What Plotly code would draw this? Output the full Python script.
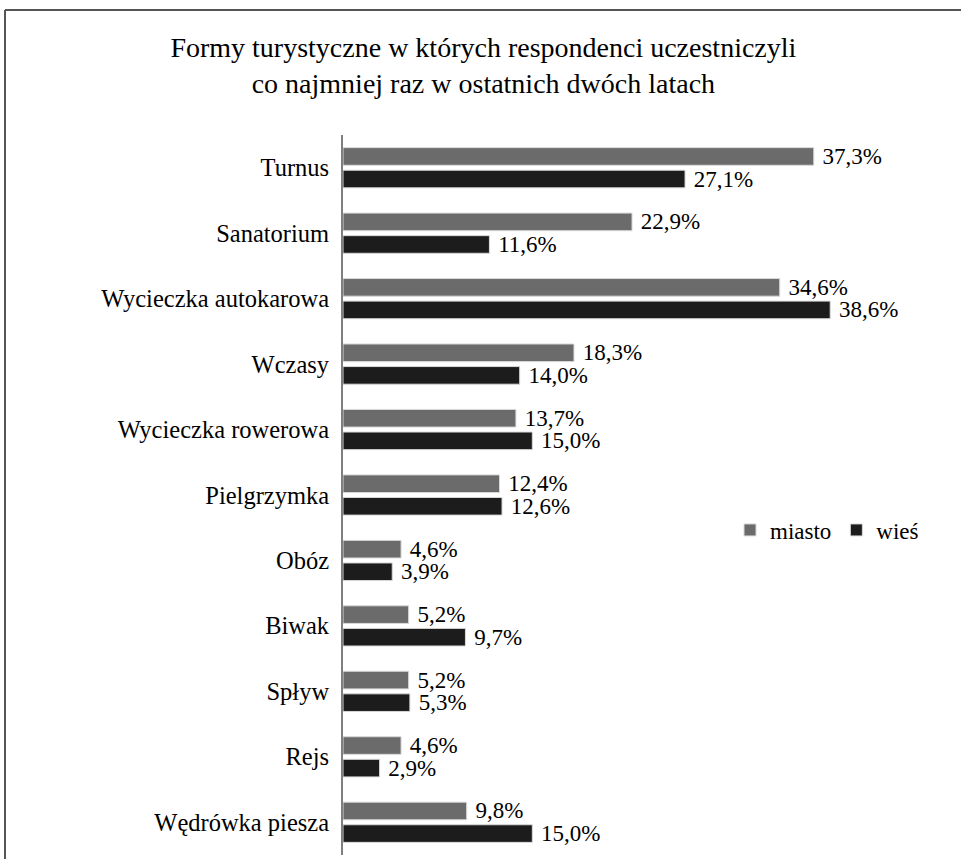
import plotly.graph_objects as go

categories = ["Turnus", "Sanatorium", "Wycieczka autokarowa", "Wczasy", "Wycieczka rowerowa",
              "Pielgrzymka", "Obóz", "Biwak", "Spływ", "Rejs", "Wędrówka piesza"]
miasto = [37.3, 22.9, 34.6, 18.3, 13.7, 12.4, 4.6, 5.2, 5.2, 4.6, 9.8]
wies = [27.1, 11.6, 38.6, 14.0, 15.0, 12.6, 3.9, 9.7, 5.3, 2.9, 15.0]
series_names = ["miasto", "wieś"]
colors = ["#6b6b6b", "#1c1c1c"]

def fmt(vals):
    return [" " + f"{v:.1f}".replace(".", ",") + "%" for v in vals]

FONT = "Liberation Serif, Times New Roman, serif"

fig = go.Figure()
for name, vals, col in zip(series_names, [miasto, wies], colors):
    fig.add_trace(go.Bar(
        y=categories, x=vals, name=name, orientation="h",
        marker=dict(color=col, line=dict(color="#d9d9d9", width=1)),
        text=fmt(vals), textposition="outside", cliponaxis=False,
        constraintext="none",
        textfont=dict(family=FONT, size=23, color="#000000"),
    ))

W, H = 961, 859
ml, mr, mt, mb = 343, 21, 135, 4
pw = W - ml - mr
ph = H - mt - mb

def px_to_paper_x(px):
    return (px - ml) / pw

def px_to_paper_y(py):
    return (H - mb - py) / ph

fig.update_layout(
    width=W, height=H,
    margin=dict(l=ml, r=mr, t=mt, b=mb, autoexpand=False),
    paper_bgcolor="white", plot_bgcolor="white",
    barmode="group", bargap=0.31, bargroupgap=0.22,
    font=dict(family=FONT, size=22, color="#000000"),
    title=dict(
        text="Formy turystyczne w których respondenci uczestniczyli<br>co najmniej raz w ostatnich dwóch latach",
        x=0.503, xanchor="center", xref="container",
        y=1 - 57 / H, yanchor="middle", yref="container",
        font=dict(family=FONT, size=28, color="#000000"),
    ),
    xaxis=dict(range=[0, 47.3], visible=False, showgrid=False, zeroline=False),
    yaxis=dict(autorange="reversed", showline=True, linecolor="#7f7f7f", linewidth=2,
               ticks="", ticklabelstandoff=7, showgrid=False, automargin=False,
               tickfont=dict(family=FONT, size=24.5, color="#000000")),
    legend=dict(orientation="h", x=px_to_paper_x(730), y=px_to_paper_y(530),
                xanchor="left", yanchor="middle", traceorder="normal",
                font=dict(family=FONT, size=23, color="#000000"),
                itemwidth=30, bgcolor="rgba(0,0,0,0)"),
    showlegend=True,
    shapes=[
        dict(type="line", xref="paper", yref="paper",
             x0=px_to_paper_x(5), x1=px_to_paper_x(970),
             y0=px_to_paper_y(10), y1=px_to_paper_y(10),
             line=dict(color="#555555", width=2)),
        dict(type="line", xref="paper", yref="paper",
             x0=px_to_paper_x(5), x1=px_to_paper_x(5),
             y0=px_to_paper_y(10), y1=px_to_paper_y(870),
             line=dict(color="#555555", width=2)),
    ],
)

fig.write_html("out.html", config={"displayModeBar": False},
               post_script="document.body.style.margin='0';")
